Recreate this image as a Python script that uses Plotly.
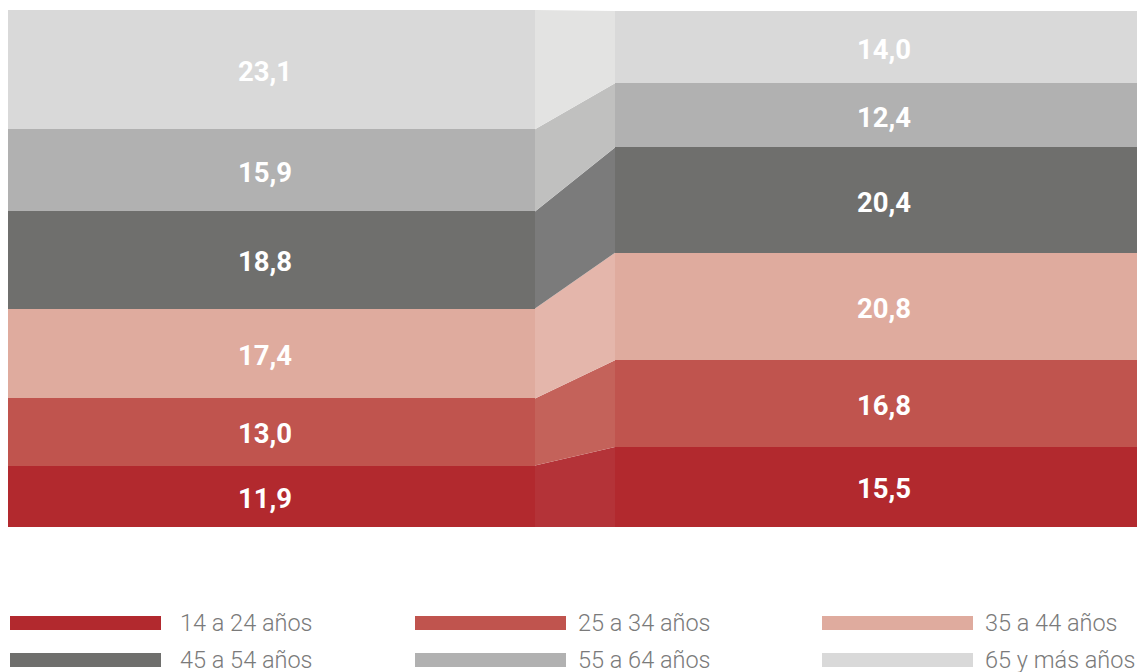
import plotly.graph_objects as go

# Datos: porcentaje por grupo de edad en cada columna
groups = ["14 a 24 años", "25 a 34 años", "35 a 44 años",
          "45 a 54 años", "55 a 64 años", "65 y más años"]
left_values = [11.9, 13.0, 17.4, 18.8, 15.9, 23.1]
right_values = [15.5, 16.8, 20.8, 20.4, 12.4, 14.0]

colors = ["#B2292E", "#C0544E", "#DFAB9E", "#6F6F6D", "#B1B1B1", "#D9D9D9"]
connector_colors = ["#B43338", "#C4625A", "#E4B6AB", "#7B7B7B", "#C0C0BF", "#E3E3E2"]

# la página añade 8px de margen arriba/izquierda
W, H = 1137, 664
M_L, M_R, M_T, M_B = 0, 3, 2, 145
PW, PH = W - M_L - M_R, H - M_T - M_B

bar_w = 527 / 607  # ancho de barra en unidades de x (hueco de 80px)


def fmt(v):
    return f"{v:.1f}".replace(".", ",")


fig = go.Figure()

# Conectores entre las dos columnas
cum_l, cum_r = 0.0, 0.0
for g, lv, rv, cc in zip(groups, left_values, right_values, connector_colors):
    x0, x1 = bar_w / 2, 1 - bar_w / 2
    fig.add_trace(go.Scatter(
        x=[x0, x1, x1, x0, x0],
        y=[cum_l, cum_r, cum_r + rv, cum_l + lv, cum_l],
        fill="toself", fillcolor=cc, mode="lines",
        line=dict(width=0), hoverinfo="skip", showlegend=False,
    ))
    cum_l += lv
    cum_r += rv

for g, lv, rv, c in zip(groups, left_values, right_values, colors):
    fig.add_trace(go.Bar(
        x=[0, 1], y=[lv, rv], width=bar_w, name=g,
        marker=dict(color=c, line=dict(width=0)),
        hoverinfo="name+y", showlegend=False,
    ))

# Etiquetas de valor
label_font = dict(family="Roboto", size=27.5, color="white", weight="bold")
for xi, values, xs in [(0, left_values, -7), (1, right_values, 5)]:
    base = 0.0
    for v in values:
        fig.add_annotation(x=xi, y=base + v / 2, text=fmt(v), showarrow=False,
                           xshift=xs, yshift=-2, font=label_font)
        base += v


def px_x(px):
    return (px - 8 - M_L) / PW


def px_y(py):
    return (M_T + PH - (py - 8)) / PH


# Leyenda manual (3 columnas x 2 filas)
legend_cols = [10, 415, 822]
legend_text_x = [178, 576, 983]
legend_rows = [623, 660]
for i, (g, c) in enumerate(zip(groups, colors)):
    col, row = i % 3, i // 3
    lx, ly = legend_cols[col], legend_rows[row]
    fig.add_shape(type="rect", xref="paper", yref="paper",
                  x0=px_x(lx), x1=px_x(lx + 151),
                  y0=px_y(ly - 7), y1=px_y(ly + 7),
                  fillcolor=c, line=dict(width=0))
    fig.add_annotation(xref="paper", yref="paper",
                       x=px_x(legend_text_x[col]), y=px_y(ly),
                       text=g, showarrow=False, xanchor="left", yanchor="middle",
                       font=dict(family="Roboto", size=23.5, color="#7A7A7A", weight=300))

fig.update_layout(
    width=W, height=H,
    margin=dict(l=M_L, r=M_R, t=M_T, b=M_B),
    barmode="stack", bargap=0,
    plot_bgcolor="white", paper_bgcolor="white",
    xaxis=dict(range=[-bar_w / 2, 1 + bar_w / 2], visible=False, fixedrange=True),
    yaxis=dict(range=[0, 100.1], visible=False, fixedrange=True),
    showlegend=False,
)

fig.write_html("out.html")
